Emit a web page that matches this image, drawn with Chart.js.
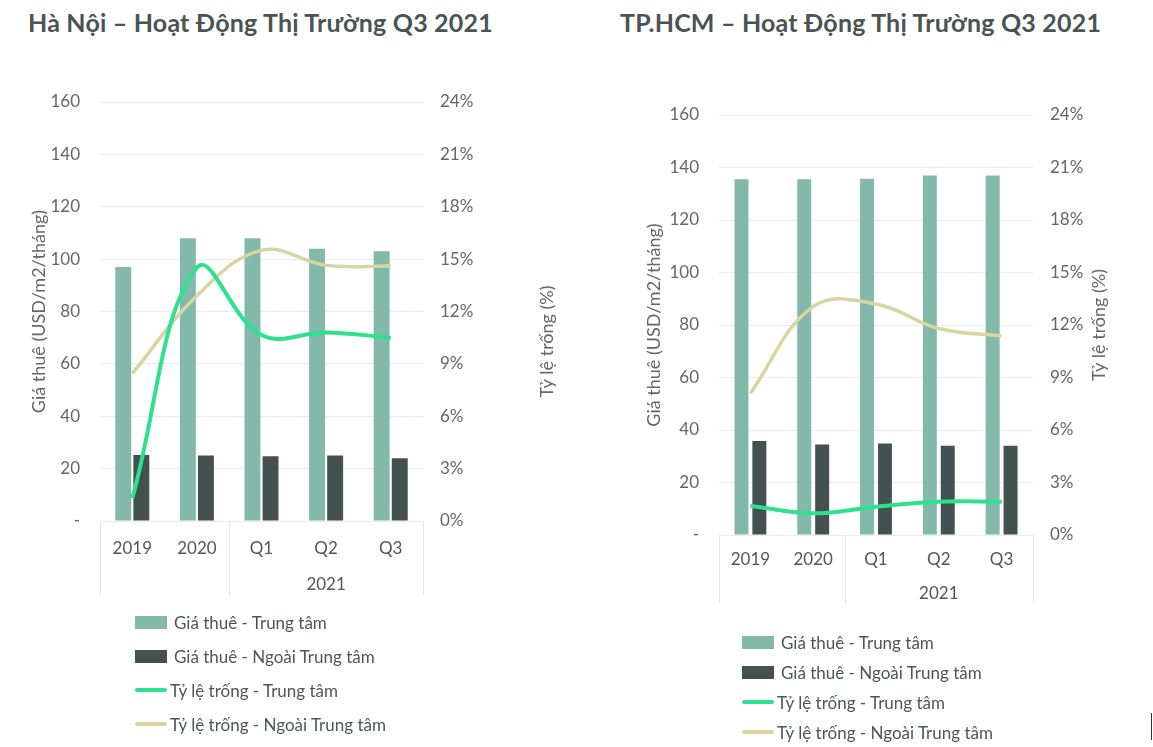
<!DOCTYPE html>
<html>
<head>
<meta charset="utf-8">
<script src="https://cdn.jsdelivr.net/npm/chart.js@4.4.1/dist/chart.umd.min.js"></script>
<style>
  body { margin: 0; background: #fff; width: 1153px; height: 747px; position: relative; overflow: hidden; font-family: Lato, sans-serif; }
  .title { position: absolute; top: 7px; font-weight: bold; font-size: 25px; letter-spacing: 0.2px; color: #4a5553; white-space: nowrap; }
  .box { position: absolute; }
  .legend { position: absolute; font-size: 17px; color: #4f5755; }
  .legend .row { display: flex; align-items: center; white-space: nowrap; }
  .legend .sw { display: inline-block; width: 32px; margin-right: 7px; }
  .legend .sw.line { height: 4px; margin-right: 3px; border-radius: 2px; }
  .legend .sw.bar { height: 13px; }
</style>
</head>
<body>
<div class="title" style="left:28px">Hà Nội – Hoạt Động Thị Trường Q3 2021</div>
<div class="title" style="left:620px">TP.HCM – Hoạt Động Thị Trường Q3 2021</div>

<div class="box" style="left:0;top:60px;width:580px;height:560px"><canvas id="hn"></canvas></div>
<div class="box" style="left:580px;top:70px;width:573px;height:560px"><canvas id="hcm"></canvas></div>

<div class="legend" id="hnLegend" style="left:135px;top:605px"></div>
<div class="legend" id="hcmLegend" style="left:742px;top:627px"></div>
<div style="position:absolute;left:1151px;top:713px;width:1px;height:27px;background:#333"></div>

<script>
// categories
const categories = ['2019', '2020', 'Q1', 'Q2', 'Q3'];
const groupLabel = '2021';
const seriesNames = ['Giá thuê - Trung tâm', 'Giá thuê - Ngoài Trung tâm', 'Tỷ lệ trống - Trung tâm', 'Tỷ lệ trống - Ngoài Trung tâm'];

// Ha Noi
const hnRentCbd = [97, 108, 108, 104, 103];
const hnRentNonCbd = [25.2, 25, 24.7, 25, 24];
const hnVacCbd = [1.3, 14.5, 10.65, 10.8, 10.5];
const hnVacNonCbd = [8.45, 12.9, 15.5, 14.65, 14.6];

// TP.HCM
const hcmRentCbd = [135.5, 135.5, 135.7, 137, 137];
const hcmRentNonCbd = [35.8, 34.5, 34.9, 34, 34];
const hcmVacCbd = [1.66, 1.24, 1.62, 1.9, 1.9];
const hcmVacNonCbd = [8.1, 13.05, 13.2, 11.8, 11.37];

// axes
const rentMax = 160, rentStep = 20;
const vacMax = 24, vacStep = 3;
const leftTitle = 'Giá thuê (USD/m2/tháng)';
const rightTitle = 'Tỷ lệ trống (%)';

const colors = ['#82b9aa', '#435250', '#2ce28f', '#d9d5a2'];
const tickFont = { family: 'Lato', size: 17 };

// box under the categories, the "2021" group label, and the right axis title
const decor = {
  id: 'decor',
  afterDraw(chart, args, opts) {
    const { ctx, chartArea } = chart;
    const x = chart.scales.x, y1 = chart.scales.y1;
    ctx.save();
    const mid = (x.getPixelForValue(1) + x.getPixelForValue(2)) / 2;
    ctx.strokeStyle = '#e2e6e5';
    ctx.lineWidth = 1;
    [chartArea.left, mid, chartArea.right].forEach(px => {
      ctx.beginPath();
      ctx.moveTo(Math.round(px) + 0.5, x.top);
      ctx.lineTo(Math.round(px) + 0.5, x.bottom);
      ctx.stroke();
    });
    ctx.font = '17px Lato';
    ctx.fillStyle = '#555';
    ctx.textAlign = 'center';
    ctx.textBaseline = 'middle';
    ctx.fillText(groupLabel, (x.getPixelForValue(2) + x.getPixelForValue(4)) / 2, x.top + opts.groupY);

    ctx.fillStyle = '#666';
    ctx.font = '18px Lato';
    ctx.translate(y1.left + opts.titleX, (chartArea.top + chartArea.bottom) / 2 + opts.titleDy);
    ctx.rotate(-Math.PI / 2);
    ctx.fillText(rightTitle, 0, 0);
    ctx.restore();
  }
};

function makeChart(id, legendId, rentCbd, rentNon, vacCbd, vacNon, cfg) {
  const chart = new Chart(document.getElementById(id), {
    type: 'bar',
    data: {
      labels: categories,
      datasets: [
        { label: seriesNames[0], data: rentCbd, backgroundColor: colors[0], yAxisID: 'y', order: 2,
          categoryPercentage: cfg.cp, barPercentage: cfg.bp },
        { label: seriesNames[1], data: rentNon, backgroundColor: colors[1], yAxisID: 'y', order: 2,
          categoryPercentage: cfg.cp, barPercentage: cfg.bp },
        { type: 'line', label: seriesNames[2], data: vacCbd, borderColor: colors[2], borderWidth: 4,
          pointRadius: 0, tension: 0.4, yAxisID: 'y1', order: 0 },
        { type: 'line', label: seriesNames[3], data: vacNon, borderColor: colors[3], borderWidth: 3.5,
          pointRadius: 0, tension: 0.4, yAxisID: 'y1', order: 1 }
      ]
    },
    options: {
      responsive: true,
      maintainAspectRatio: false,
      animation: false,
      layout: { padding: { top: cfg.padTop, bottom: cfg.padBottom, left: 0, right: 0 } },
      plugins: {
        legend: { display: false },
        tooltip: { enabled: false },
        decor: { groupY: cfg.groupY, titleX: cfg.titleX, titleDy: cfg.titleDy }
      },
      scales: {
        x: {
          grid: { display: false },
          border: { display: false },
          ticks: { font: tickFont, color: '#555', padding: cfg.xPad, maxRotation: 0 },
          afterFit: s => { s.height = cfg.xHeight; }
        },
        y: {
          position: 'left',
          min: 0, max: rentMax,
          ticks: { stepSize: rentStep, font: tickFont, color: '#666', padding: 20,
                   callback: v => v === 0 ? '-' : v },
          grid: { color: '#e9eded', drawTicks: false },
          border: { display: false },
          title: { display: true, text: leftTitle, font: { family: 'Lato', size: 18 }, color: '#666',
                   padding: { top: cfg.yTitlePad, bottom: 0 } },
          afterFit: s => { s.width = cfg.yWidth; }
        },
        y1: {
          position: 'right',
          min: 0, max: vacMax,
          ticks: { stepSize: vacStep, font: tickFont, color: '#666', padding: 17,
                   callback: v => v + '%' },
          grid: { display: false, drawTicks: false },
          border: { display: false },
          afterFit: s => { s.width = cfg.y1Width; }
        }
      }
    },
    plugins: [decor]
  });

  // legend as html, from the datasets
  const box = document.getElementById(legendId);
  chart.data.datasets.forEach(ds => {
    const row = document.createElement('div');
    row.className = 'row';
    row.style.height = cfg.legendRow + 'px';
    const sw = document.createElement('span');
    sw.className = 'sw ' + (ds.type === 'line' ? 'line' : 'bar');
    sw.style.background = ds.type === 'line' ? ds.borderColor : ds.backgroundColor;
    row.appendChild(sw);
    row.appendChild(document.createTextNode(ds.label));
    box.appendChild(row);
  });
  return chart;
}

makeChart('hn', 'hnLegend', hnRentCbd, hnRentNonCbd, hnVacCbd, hnVacNonCbd, {
  cp: 0.56, bp: 0.88, padTop: 42, padBottom: 25, xHeight: 74, xPad: 9, groupY: 64,
  yWidth: 100, y1Width: 157, yTitlePad: 28, titleX: 124, titleDy: 30, legendRow: 34
});

makeChart('hcm', 'hcmLegend', hcmRentCbd, hcmRentNonCbd, hcmVacCbd, hcmVacNonCbd, {
  cp: 0.57, bp: 0.78, padTop: 45, padBottom: 27, xHeight: 68, xPad: 6, groupY: 59,
  yWidth: 139, y1Width: 120, yTitlePad: 63, titleX: 66, titleDy: 0, legendRow: 30
});
</script>
</body>
</html>
